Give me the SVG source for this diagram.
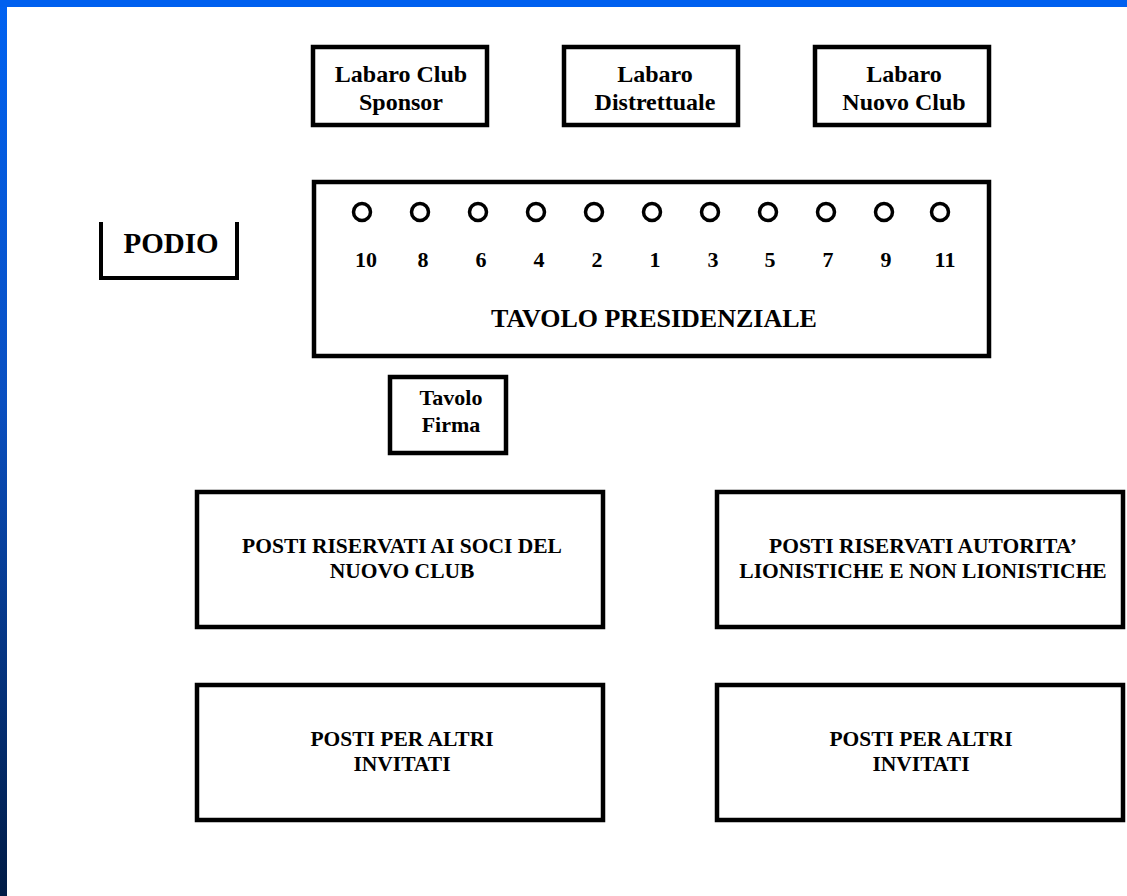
<svg xmlns="http://www.w3.org/2000/svg" width="1127" height="896" viewBox="0 0 1127 896">
<style>
.box{fill:#fff;stroke:#000;stroke-width:4.5}
.seat{fill:#fff;stroke:#000;stroke-width:3.5}
text{font-family:"Liberation Serif","Times New Roman",serif;font-weight:bold;fill:#000;text-anchor:middle}
.lab{font-size:24px}
.num{font-size:22px}
.big{font-size:26px}
.sm{font-size:22px}
.area{font-size:21.5px}
</style>
<defs>
<linearGradient id="side" x1="0" y1="0" x2="0" y2="1">
<stop offset="0" stop-color="#0062f2"/>
<stop offset="0.45" stop-color="#0a4fc0"/>
<stop offset="1" stop-color="#001b45"/>
</linearGradient>
</defs>
<rect x="0" y="0" width="1127" height="896" fill="#fff"/>
<rect x="0" y="0" width="7" height="896" fill="url(#side)"/>
<rect x="0" y="0" width="1127" height="7" fill="#0060ef"/>

<g id="labaro-sponsor">
<rect class="box" x="313" y="47" width="174" height="78"/>
<text class="lab" x="401" y="82">Labaro Club</text>
<text class="lab" x="401" y="110">Sponsor</text>
</g>
<g id="labaro-distrettuale">
<rect class="box" x="564" y="47" width="174" height="78"/>
<text class="lab" x="655" y="82">Labaro</text>
<text class="lab" x="655" y="110">Distrettuale</text>
</g>
<g id="labaro-nuovo">
<rect class="box" x="815" y="47" width="174" height="78"/>
<text class="lab" x="904" y="82">Labaro</text>
<text class="lab" x="904" y="110">Nuovo Club</text>
</g>

<g id="podio">
<path d="M101,222 V278 H237 V222" fill="none" stroke="#000" stroke-width="4"/>
<text x="171" y="253" style="font-size:29px">PODIO</text>
</g>

<g id="tavolo-presidenziale">
<rect class="box" x="314" y="182" width="675" height="174"/>
<circle class="seat" cx="362" cy="212" r="8.5"/>
<circle class="seat" cx="420" cy="212" r="8.5"/>
<circle class="seat" cx="478" cy="212" r="8.5"/>
<circle class="seat" cx="536" cy="212" r="8.5"/>
<circle class="seat" cx="594" cy="212" r="8.5"/>
<circle class="seat" cx="652" cy="212" r="8.5"/>
<circle class="seat" cx="710" cy="212" r="8.5"/>
<circle class="seat" cx="768" cy="212" r="8.5"/>
<circle class="seat" cx="826" cy="212" r="8.5"/>
<circle class="seat" cx="884" cy="212" r="8.5"/>
<circle class="seat" cx="940" cy="212" r="8.5"/>
<text class="num" x="366" y="267">10</text>
<text class="num" x="423" y="267">8</text>
<text class="num" x="481" y="267">6</text>
<text class="num" x="539" y="267">4</text>
<text class="num" x="597" y="267">2</text>
<text class="num" x="655" y="267">1</text>
<text class="num" x="713" y="267">3</text>
<text class="num" x="770" y="267">5</text>
<text class="num" x="828" y="267">7</text>
<text class="num" x="886" y="267">9</text>
<text class="num" x="945" y="267">11</text>
<text class="big" x="654" y="327">TAVOLO PRESIDENZIALE</text>
</g>

<g id="tavolo-firma">
<rect class="box" x="390" y="377" width="116" height="76"/>
<text class="sm" x="451" y="405">Tavolo</text>
<text class="sm" x="451" y="432">Firma</text>
</g>

<g id="soci-nuovo-club">
<rect class="box" x="197" y="492" width="406" height="135"/>
<text class="area" x="402" y="553">POSTI RISERVATI AI SOCI DEL</text>
<text class="area" x="402" y="578">NUOVO CLUB</text>
</g>
<g id="autorita">
<rect class="box" x="717" y="492" width="406" height="135"/>
<text class="area" x="923" y="553">POSTI RISERVATI AUTORITA’</text>
<text class="area" x="923" y="578">LIONISTICHE E NON LIONISTICHE</text>
</g>
<g id="altri-invitati-1">
<rect class="box" x="197" y="685" width="406" height="135"/>
<text class="area" x="402" y="746">POSTI PER ALTRI</text>
<text class="area" x="402" y="771">INVITATI</text>
</g>
<g id="altri-invitati-2">
<rect class="box" x="717" y="685" width="406" height="135"/>
<text class="area" x="921" y="746">POSTI PER ALTRI</text>
<text class="area" x="921" y="771">INVITATI</text>
</g>
<g id="connectors"/>
</svg>
